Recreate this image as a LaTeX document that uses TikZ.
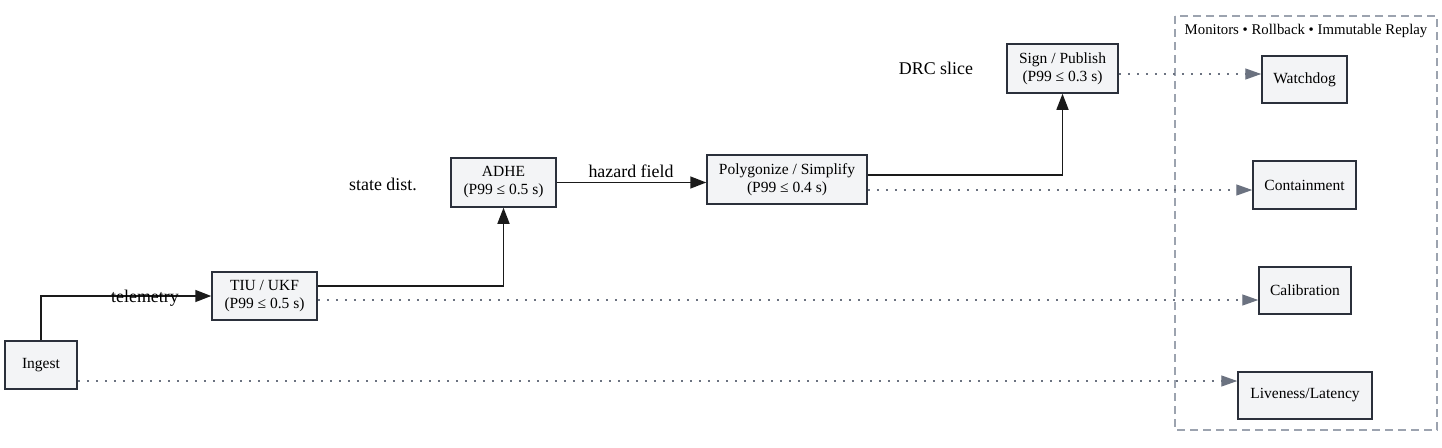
\documentclass[tikz,border=0pt]{standalone}
\usepackage{fontspec}
\setmainfont{Liberation Serif}
\usetikzlibrary{arrows.meta}
\definecolor{boxfill}{HTML}{F3F4F6}
\definecolor{boxline}{HTML}{2B303B}
\definecolor{edgedark}{HTML}{1A1A1A}
\definecolor{dotgray}{HTML}{6B7280}
\definecolor{framegray}{HTML}{9CA3AF}
\begin{document}
\begin{tikzpicture}[x=1pt,y=-1pt,
  procbox/.style={draw=boxline, fill=boxfill, line width=1.5pt, inner sep=0pt,
    align=center, font=\rmfamily\fontsize{15.5}{18}\selectfont},
  flow/.style={draw=edgedark, line width=1.5pt, -{Triangle[length=16pt,width=12pt]}},
  monitor/.style={draw=dotgray, line width=1.3pt, dash pattern=on 2.5pt off 6.5pt,
    -{Triangle[length=16pt,width=11pt,fill=dotgray]}},
  elabel/.style={font=\rmfamily\fontsize{17.9}{20}\selectfont, inner sep=0pt},
]
\useasboundingbox (0,0) rectangle (1442,447);
% container
\draw[framegray, line width=1.3pt, dash pattern=on 8pt off 5pt] (1175,16) rectangle (1437,430);
\node[font=\rmfamily\fontsize{14.8}{17}\selectfont, inner sep=0pt] (title) at (1306,31) {Monitors • Rollback • Immutable Replay};

% nodes
\node[procbox, minimum width=72pt, minimum height=48pt] (ingest) at (41,365) {Ingest};
\node[procbox, minimum width=105pt, minimum height=48pt] (tiu) at (264.5,296) {TIU / UKF\\(P99 ≤ 0.5 s)};
\node[procbox, minimum width=105pt, minimum height=49pt] (adhe) at (503.5,182.5) {ADHE\\(P99 ≤ 0.5 s)};
\node[procbox, minimum width=160pt, minimum height=49pt] (poly) at (787,179.5) {Polygonize / Simplify\\(P99 ≤ 0.4 s)};
\node[procbox, minimum width=111pt, minimum height=49pt] (sign) at (1062.5,68.5) {Sign / Publish\\(P99 ≤ 0.3 s)};
\node[procbox, minimum width=85pt, minimum height=47pt] (watch) at (1304.5,79.5) {Watchdog};
\node[procbox, minimum width=103pt, minimum height=48pt] (contain) at (1304.5,185) {Containment};
\node[procbox, minimum width=92pt, minimum height=47pt] (calib) at (1305,290.5) {Calibration};
\node[procbox, minimum width=134pt, minimum height=47pt] (live) at (1305,395.5) {Liveness/Latency};

% main flow
\draw[flow] (ingest.north) |- (tiu.west);
\draw[flow] ([yshift=10pt]tiu.east) -| (adhe.south);
\draw[flow] (adhe.east) -- (poly.west |- adhe.east);
\draw[flow] ([yshift=4.5pt]poly.east) -| (sign.south);

% edge labels
\node[elabel] (lt) at (145,298) {telemetry};
\node[elabel] (ls) at (383,184) {state dist.};
\node[elabel] (lh) at (631,171) {hazard field};
\node[elabel] (ld) at (936,68) {DRC slice};

% monitor links
\coordinate (s1) at ([yshift=-5.5pt]sign.east);
\draw[monitor] (s1) -- (watch.west |- s1);
\coordinate (s2) at ([yshift=-10.5pt]poly.east);
\draw[monitor] (s2) -- (contain.west |- s2);
\coordinate (s3) at ([yshift=-4pt]tiu.east);
\draw[monitor] (s3) -- (calib.west |- s3);
\coordinate (s4) at ([yshift=-16pt]ingest.east);
\draw[monitor] (s4) -- (live.west |- s4);
\end{tikzpicture}
\end{document}
